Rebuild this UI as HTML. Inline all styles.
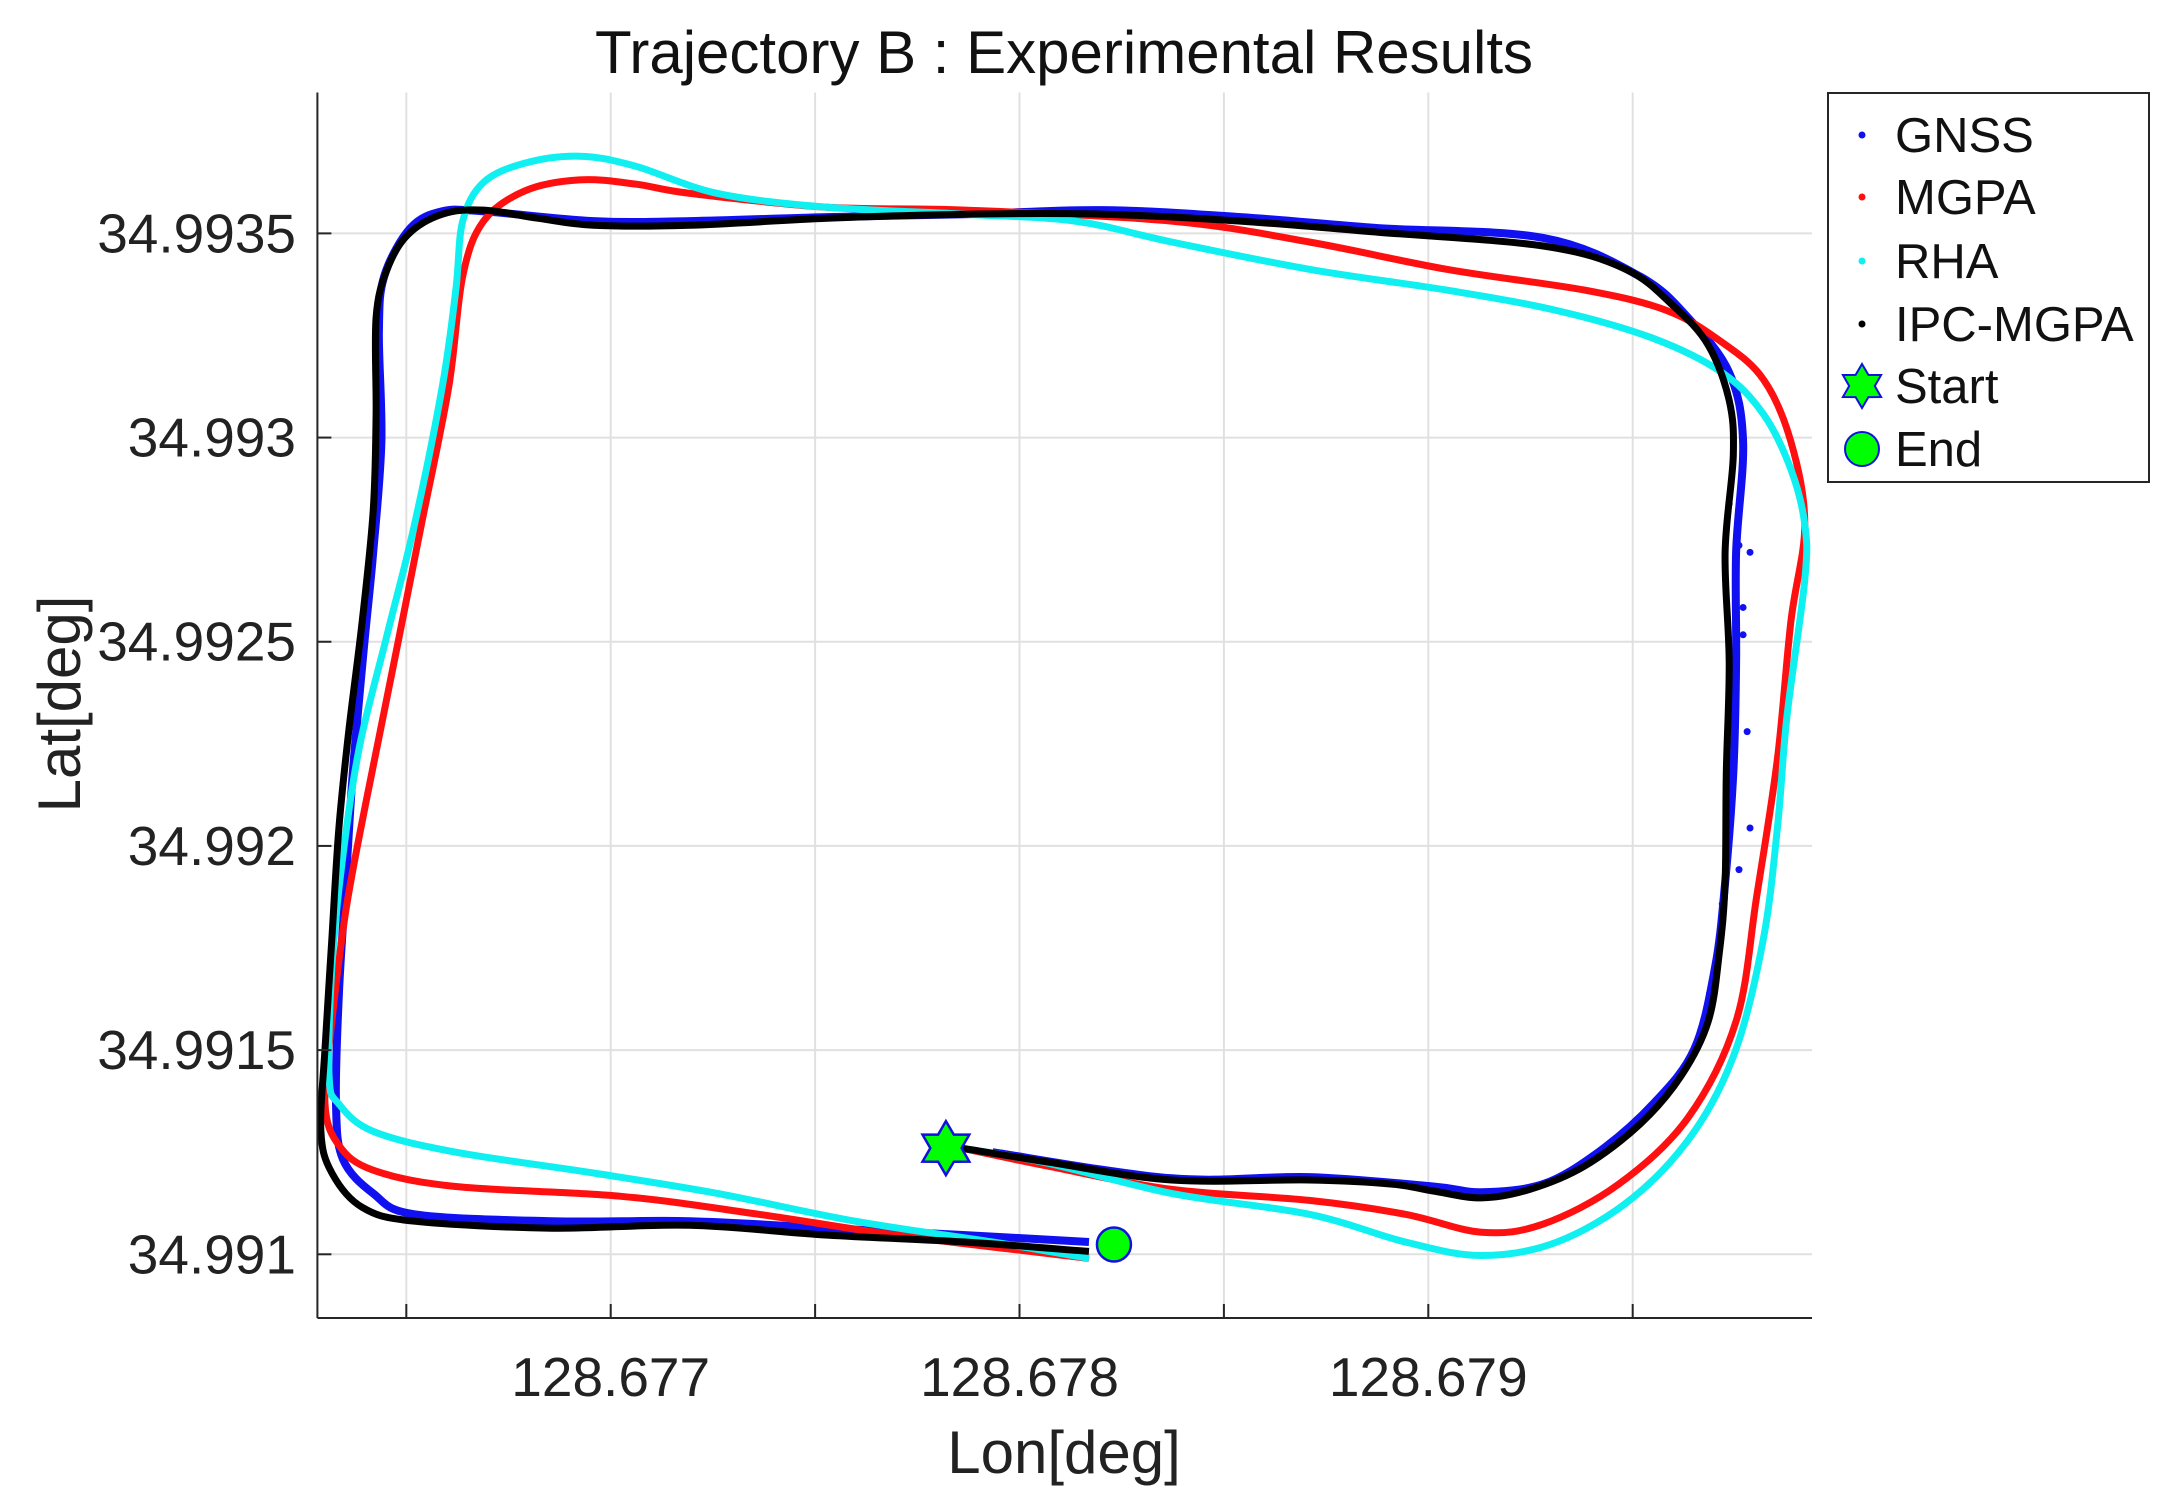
<!DOCTYPE html>
<html><head><meta charset="utf-8"><style>
html,body{margin:0;padding:0;background:#fff;}
svg{display:block;font-family:"Liberation Sans",Arial,sans-serif;}
</style></head><body>
<svg id="chart" width="2164" height="1509" viewBox="0 0 2164 1509" xmlns="http://www.w3.org/2000/svg">
<rect width="2164" height="1509" fill="#fff"/>
<g id="grid"></g>
<g id="series"></g>
<g id="axes"></g>
<text x="1064" y="73" font-size="60" text-anchor="middle" fill="#111">Trajectory B : Experimental Results</text>
<text x="1064" y="1473" font-size="60" text-anchor="middle" fill="#222">Lon[deg]</text>
<text transform="translate(80,704) rotate(-90)" font-size="60" text-anchor="middle" fill="#222">Lat[deg]</text>
<g id="legend"></g>
</svg>
<script>
const xTicks=[128.677,128.678,128.679];
const xTickLabels=["128.677","128.678","128.679"];
const xGrid=[128.6765,128.677,128.6775,128.678,128.6785,128.679,128.6795];
const yTicks=[34.991,34.9915,34.992,34.9925,34.993,34.9935];
const yTickLabels=["34.991","34.9915","34.992","34.9925","34.993","34.9935"];
const xDomain=[128.6762825,128.6799386];
const yDomain=[34.990844,34.993845];

const ipcLon=[128.677857,128.678069,128.678372,128.678709,128.678911,128.679012,128.679130,128.679248,128.679382,128.679517,128.679618,128.679685,128.679712,128.679726,128.679729,128.679736,128.679726,128.679746,128.679736,128.679685,128.679601,128.679483,128.679281,128.678877,128.678540,128.678204,128.677867,128.677530,128.677194,128.676958,128.676823,128.676689,128.676588,128.676503,128.676453,128.676426,128.676426,128.676419,128.676392,128.676359,128.676335,128.676318,128.676301,128.676291,128.676318,128.676392,128.676520,128.676857,128.677194,128.677530,128.677867,128.678170];
const ipcLat=[34.991260,34.991226,34.991182,34.991182,34.991172,34.991155,34.991138,34.991159,34.991216,34.991318,34.991436,34.991571,34.991740,34.991909,34.992179,34.992449,34.992719,34.992956,34.993091,34.993226,34.993321,34.993412,34.993469,34.993503,34.993530,34.993547,34.993547,34.993537,34.993520,34.993520,34.993537,34.993557,34.993547,34.993496,34.993412,34.993294,34.993057,34.992821,34.992550,34.992280,34.992044,34.991774,34.991503,34.991301,34.991199,34.991115,34.991081,34.991064,34.991071,34.991047,34.991030,34.991007];

const mgpaLon=[128.677857,128.678069,128.678372,128.678709,128.678944,128.679130,128.679281,128.679466,128.679635,128.679753,128.679803,128.679854,128.679887,128.679921,128.679887,128.679820,128.679719,128.679584,128.679382,128.679045,128.678709,128.678372,128.677867,128.677530,128.677194,128.677059,128.676924,128.676790,128.676689,128.676638,128.676604,128.676537,128.676470,128.676402,128.676352,128.676318,128.676301,128.676335,128.676419,128.676621,128.677025,128.677362,128.677699,128.678170];
const mgpaLat=[34.991260,34.991216,34.991159,34.991132,34.991098,34.991054,34.991074,34.991172,34.991334,34.991571,34.991875,34.992213,34.992550,34.992787,34.992990,34.993142,34.993233,34.993311,34.993361,34.993412,34.993479,34.993530,34.993557,34.993564,34.993598,34.993621,34.993631,34.993604,34.993530,34.993395,34.993125,34.992787,34.992449,34.992111,34.991841,34.991571,34.991368,34.991267,34.991206,34.991166,34.991142,34.991098,34.991047,34.990990];

const rhaLon=[128.677857,128.678069,128.678372,128.678709,128.678944,128.679130,128.679315,128.679500,128.679651,128.679753,128.679820,128.679854,128.679877,128.679921,128.679921,128.679887,128.679820,128.679719,128.679550,128.679315,128.679045,128.678709,128.678372,128.678136,128.677867,128.677530,128.677261,128.677059,128.676924,128.676790,128.676689,128.676638,128.676621,128.676588,128.676520,128.676453,128.676386,128.676345,128.676318,128.676311,128.676335,128.676419,128.676621,128.676958,128.677261,128.677598,128.677934,128.678170];
const rhaLat=[34.991260,34.991223,34.991149,34.991098,34.991030,34.990997,34.991030,34.991138,34.991301,34.991503,34.991774,34.992044,34.992314,34.992652,34.992787,34.992922,34.993057,34.993159,34.993243,34.993311,34.993361,34.993412,34.993479,34.993530,34.993547,34.993564,34.993598,34.993665,34.993689,34.993672,34.993625,34.993530,34.993361,34.993125,34.992787,34.992517,34.992246,34.991976,34.991706,34.991436,34.991368,34.991301,34.991250,34.991199,34.991149,34.991081,34.991030,34.990990];

const gnssLon=[128.677934,128.678372,128.678709,128.679012,128.679130,128.679281,128.679416,128.679550,128.679651,128.679702,128.679726,128.679746,128.679753,128.679753,128.679770,128.679736,128.679635,128.679517,128.679281,128.678877,128.678540,128.678204,128.677867,128.677530,128.677194,128.676958,128.676689,128.676588,128.676510,128.676446,128.676433,128.676439,128.676419,128.676396,128.676369,128.676352,128.676335,128.676328,128.676345,128.676419,128.676520,128.676857,128.677194,128.677530,128.677867,128.678170];
const gnssLat=[34.991250,34.991186,34.991189,34.991166,34.991152,34.991172,34.991250,34.991368,34.991503,34.991706,34.991909,34.992179,34.992449,34.992719,34.992990,34.993159,34.993294,34.993395,34.993489,34.993513,34.993540,34.993557,34.993547,34.993540,34.993530,34.993530,34.993554,34.993554,34.993513,34.993395,34.993260,34.992990,34.992719,34.992483,34.992179,34.991909,34.991638,34.991368,34.991233,34.991149,34.991098,34.991081,34.991081,34.991064,34.991047,34.991030];
const gnssOutLon=[128.679736,128.679760,128.679787,128.679770,128.679770,128.679780,128.679787,128.679760,128.679719,128.679688];
const gnssOutLat=[34.992838,34.992736,34.992719,34.992584,34.992517,34.992280,34.992044,34.991942,34.991858,34.991638];

const startLon=[128.677820], startLat=[34.991260];
const endLon=[128.678231], endLat=[34.991024];

const X0=317.4,X1=1812,Y0=1318,Y1=92.5;
function xS(v){return X0+(v-xDomain[0])/(xDomain[1]-xDomain[0])*(X1-X0);}
function yS(v){return Y0-(v-yDomain[0])/(yDomain[1]-yDomain[0])*(Y0-Y1);}
const NS="http://www.w3.org/2000/svg";
function mk(tag,attrs,parent){const e=document.createElementNS(NS,tag);for(const k in attrs)e.setAttribute(k,attrs[k]);parent.appendChild(e);return e;}
function smoothPath(lons,lats){
  const p=lons.map((v,i)=>[xS(v),yS(lats[i])]);
  let d="M"+p[0][0].toFixed(1)+","+p[0][1].toFixed(1);
  for(let i=0;i<p.length-1;i++){
    const a=p[i-1]||p[i],b=p[i],c=p[i+1],e=p[i+2]||c;
    const c1=[b[0]+(c[0]-a[0])/6,b[1]+(c[1]-a[1])/6],c2=[c[0]-(e[0]-b[0])/6,c[1]-(e[1]-b[1])/6];
    d+="C"+c1[0].toFixed(1)+","+c1[1].toFixed(1)+" "+c2[0].toFixed(1)+","+c2[1].toFixed(1)+" "+c[0].toFixed(1)+","+c[1].toFixed(1);
  }
  return d;
}
const grid=document.getElementById('grid');
xGrid.forEach(v=>{const l=mk('line',{x1:xS(v),x2:xS(v),y1:Y1,y2:Y0,stroke:'#e0e0e0','stroke-width':2},grid);

});
yTicks.forEach(v=>{const l=mk('line',{x1:X0,x2:X1,y1:yS(v),y2:yS(v),stroke:'#e0e0e0','stroke-width':2},grid);

});

const ser=document.getElementById('series');
const gl=mk('path',{d:smoothPath(gnssLon,gnssLat),fill:'none',stroke:'#1010f0','stroke-width':8,'stroke-linejoin':'round'},ser);


gnssOutLon.forEach((v,i)=>{const c=mk('circle',{cx:xS(v),cy:yS(gnssOutLat[i]),r:3.5,fill:'#1010f0'},ser);

});
const ml=mk('path',{d:smoothPath(mgpaLon,mgpaLat),fill:'none',stroke:'#ff1010','stroke-width':7,'stroke-linejoin':'round'},ser);


const rl=mk('path',{d:smoothPath(rhaLon,rhaLat),fill:'none',stroke:'#10f0f0','stroke-width':7,'stroke-linejoin':'round'},ser);


const il=mk('path',{d:smoothPath(ipcLon,ipcLat),fill:'none',stroke:'#000','stroke-width':7,'stroke-linejoin':'round'},ser);



function star(cx,cy,r){let pts=[];for(let i=0;i<12;i++){const a=-Math.PI/2+i*Math.PI/6;const rr=i%2?r*0.58:r;pts.push((cx+rr*Math.cos(a)).toFixed(1)+","+(cy+rr*Math.sin(a)).toFixed(1));}return pts.join(" ");}
const st=mk('polygon',{points:star(xS(startLon[0]),yS(startLat[0]),27),fill:'#00ff00',stroke:'#1010e0','stroke-width':2.5},ser);


const en=mk('circle',{cx:xS(endLon[0]),cy:yS(endLat[0]),r:17,fill:'#00ff00',stroke:'#1010e0','stroke-width':2.5},ser);



const ax=document.getElementById('axes');
const xa=mk('line',{x1:X0,x2:X1,y1:Y0,y2:Y0,stroke:'#262626','stroke-width':2},ax);


const ya=mk('line',{x1:X0,x2:X0,y1:Y0,y2:Y1,stroke:'#262626','stroke-width':2},ax);


xGrid.forEach(v=>{const t=mk('line',{x1:xS(v),x2:xS(v),y1:Y0,y2:Y0-14,stroke:'#262626','stroke-width':2},ax);

});
xTicks.forEach((v,i)=>{const t=mk('text',{x:xS(v),y:1396,'font-size':55,'text-anchor':'middle',fill:'#222'},ax);t.textContent=xTickLabels[i];

});
yTicks.forEach((v,i)=>{const tk=mk('line',{x1:X0,x2:X0+14,y1:yS(v),y2:yS(v),stroke:'#262626','stroke-width':2},ax);


const t=mk('text',{x:296,y:yS(v)+19,'font-size':55,'text-anchor':'end',fill:'#222'},ax);t.textContent=yTickLabels[i];

});

const lg=document.getElementById('legend');
const box=mk('rect',{x:1828,y:93,width:321,height:389,fill:'#fff',stroke:'#262626','stroke-width':2},lg);


const legNames=["GNSS","MGPA","RHA","IPC-MGPA","Start","End"];
const legColors=["#1010f0","#ff1010","#10f0f0","#000","",""];
const legY=[135,197,261,324,386,449];
legNames.forEach((n,i)=>{
  const g=mk('g',{},lg);
  
  
  if(i<4) mk('circle',{cx:1862,cy:legY[i],r:3.5,fill:legColors[i]},g);
  else if(i===4) mk('polygon',{points:star(1862,legY[i],22),fill:'#00ff00',stroke:'#1010e0','stroke-width':2},g);
  else mk('circle',{cx:1862,cy:legY[i],r:17,fill:'#00ff00',stroke:'#1010e0','stroke-width':2},g);
  const t=mk('text',{x:1895,y:legY[i]+17,'font-size':49,fill:'#111'},g);t.textContent=n;
});
</script>
</body></html>
